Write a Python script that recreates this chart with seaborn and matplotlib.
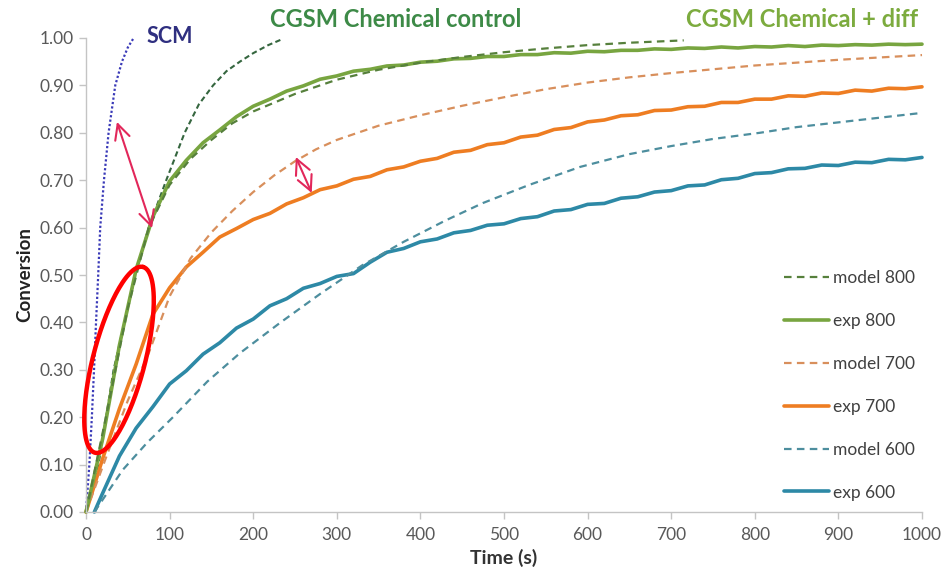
import numpy as np
import pandas as pd
import matplotlib
matplotlib.use("Agg")
import matplotlib.pyplot as plt
import seaborn as sns

# ---------------- data ----------------
exp_t = list(range(0, 1001, 20))
exp800 = [0.000, 0.155, 0.352, 0.512, 0.623, 0.698, 0.742, 0.779, 0.806, 0.834,
          0.856, 0.871, 0.888, 0.899, 0.913, 0.920, 0.930, 0.934, 0.941, 0.943,
          0.949, 0.951, 0.956, 0.957, 0.961, 0.961, 0.965, 0.965, 0.969, 0.968,
          0.972, 0.971, 0.974, 0.974, 0.977, 0.976, 0.979, 0.978, 0.981, 0.979,
          0.982, 0.981, 0.984, 0.982, 0.985, 0.984, 0.986, 0.985, 0.987, 0.986,
          0.987]
exp700 = [0.000, 0.113, 0.218, 0.312, 0.417, 0.473, 0.517, 0.548, 0.580, 0.598,
          0.617, 0.630, 0.650, 0.663, 0.680, 0.688, 0.702, 0.708, 0.722, 0.728,
          0.740, 0.746, 0.759, 0.763, 0.775, 0.779, 0.791, 0.795, 0.807, 0.811,
          0.823, 0.827, 0.836, 0.838, 0.847, 0.848, 0.855, 0.856, 0.864, 0.864,
          0.871, 0.871, 0.878, 0.877, 0.884, 0.883, 0.890, 0.888, 0.894, 0.893,
          0.897]
exp600_t = [10] + list(range(20, 1001, 20))
exp600 = [0.000, 0.040, 0.118, 0.177, 0.222, 0.270, 0.298, 0.333, 0.357, 0.388,
          0.407, 0.435, 0.450, 0.472, 0.482, 0.497, 0.503, 0.527, 0.548, 0.556,
          0.570, 0.576, 0.589, 0.594, 0.605, 0.608, 0.619, 0.623, 0.635, 0.638,
          0.649, 0.651, 0.662, 0.665, 0.675, 0.678, 0.688, 0.690, 0.701, 0.704,
          0.714, 0.716, 0.724, 0.725, 0.732, 0.731, 0.738, 0.737, 0.744, 0.743,
          0.748]

model800_t = [0, 25, 50, 75, 100, 125, 150, 175, 200, 250, 300, 350, 400, 450,
              500, 550, 600, 650, 715]
model800 = [0.0, 0.21, 0.43, 0.60, 0.69, 0.745, 0.785, 0.82, 0.845, 0.882, 0.912,
            0.933, 0.948, 0.960, 0.970, 0.978, 0.985, 0.990, 0.995]
model700_t = [0, 25, 50, 75, 100, 125, 150, 175, 200, 225, 250, 275, 300, 350,
              400, 450, 500, 550, 600, 650, 700, 750, 800, 850, 900, 950, 1000]
model700 = [0.0, 0.12, 0.235, 0.335, 0.455, 0.535, 0.59, 0.635, 0.675, 0.71, 0.74,
            0.765, 0.785, 0.815, 0.837, 0.857, 0.875, 0.892, 0.906, 0.917, 0.926,
            0.934, 0.942, 0.948, 0.954, 0.959, 0.964]
model600_t = [10, 44, 73, 104, 145, 184, 232, 280, 330, 380, 430, 475, 530, 591,
              650, 700, 750, 806, 850, 900, 950, 1000]
model600 = [0.0, 0.089, 0.146, 0.20, 0.275, 0.335, 0.399, 0.46, 0.52, 0.57, 0.615,
            0.652, 0.69, 0.728, 0.755, 0.772, 0.787, 0.80, 0.812, 0.822, 0.832, 0.842]

chem_t = [0, 15, 24, 33, 46, 59, 75, 96, 118, 135, 152, 168, 184, 200, 218, 234]
chem = [0.0, 0.10, 0.20, 0.30, 0.40, 0.50, 0.60, 0.70, 0.80, 0.86, 0.90, 0.93,
        0.95, 0.968, 0.985, 0.997]
scm_t = [0, 4, 7, 9.6, 12, 14.6, 17, 21.5, 27, 35, 43, 50, 57]
scm = [0.0, 0.10, 0.20, 0.30, 0.40, 0.50, 0.60, 0.70, 0.80, 0.90, 0.95, 0.98, 1.00]

x_ticks = list(range(0, 1001, 100))
y_ticks = [i / 10 for i in range(11)]

# ---------------- style ----------------
sns.set_theme(style="white")
plt.rcParams["font.family"] = ["Lato", "DejaVu Sans"]

fig = plt.figure(figsize=(9.43, 5.75), dpi=100)
ax = fig.add_axes([86 / 943, 1 - 512 / 575, (922 - 86) / 943, (512 - 38) / 575])

C_EXP800 = "#78a540"
C_MOD800 = "#56803c"
C_EXP700 = "#ee7d22"
C_MOD700 = "#d88f5c"
C_EXP600 = "#2d89a6"
C_MOD600 = "#4d8e9e"
C_CHEM = "#35663f"
C_SCM = "#3a3ab8"

def draw(t, v, color, lw, ls):
    sns.lineplot(x=t, y=v, ax=ax, color=color, linewidth=lw, linestyle=ls,
                 estimator=None, sort=False, clip_on=False)
    return ax.lines[-1]

draw(scm_t, scm, C_SCM, 1.6, (0, (1.0, 1.0)))
draw(chem_t, chem, C_CHEM, 1.5, (0, (2.6, 1.6)))
h_e600 = draw(exp600_t, exp600, C_EXP600, 2.6, "-")
h_m600 = draw(model600_t, model600, C_MOD600, 1.6, (0, (3.4, 2.4)))
h_e700 = draw(exp_t, exp700, C_EXP700, 2.6, "-")
h_m700 = draw(model700_t, model700, C_MOD700, 1.6, (0, (3.4, 2.4)))
h_e800 = draw(exp_t, exp800, C_EXP800, 2.6, "-")
h_m800 = draw(model800_t, model800, C_MOD800, 1.6, (0, (3.4, 2.4)))

ax.set_xlim(0, 1000)
ax.set_ylim(0, 1.0)
ax.set_xticks(x_ticks)
ax.set_yticks(y_ticks)
ax.set_xticklabels([str(x) for x in x_ticks])
ax.set_yticklabels([f"{y:.2f}" for y in y_ticks])
for s in ["top", "right"]:
    ax.spines[s].set_visible(False)
for s in ["left", "bottom"]:
    ax.spines[s].set_color("#c4c4c4")
    ax.spines[s].set_linewidth(1.0)
ax.tick_params(axis="both", direction="out", length=5, width=1, color="#c4c4c4",
               labelcolor="#595959", labelsize=12.5, left=True, bottom=True)
ax.tick_params(axis="y", pad=4)
ax.tick_params(axis="x", pad=6)
ax.set_xlabel("Time (s)", fontsize=14, fontweight="bold", color="#333333", labelpad=4)
ax.set_ylabel("Conversion", fontsize=13.5, fontweight="bold", color="#222222", labelpad=4)

# curve labels
ax.text(100, 1.004, "SCM", color="#2f2f80", fontsize=15.5, fontweight="bold",
        ha="center", va="center", clip_on=False)
ax.text(396 / 0.836 - 86 / 0.836, 1.038, "CGSM Chemical control", color="#3d8a47",
        fontsize=17, fontweight="bold", ha="center", va="center", clip_on=False)
ax.text(856, 1.038, "CGSM Chemical + diff", color="#7cab3e", fontsize=17,
        fontweight="bold", ha="center", va="center", clip_on=False)

# annotation arrows
arrow_kw = dict(arrowstyle="<->,head_length=0.6,head_width=0.3", color="#e2275a",
                lw=1.5, mutation_scale=18, shrinkA=0, shrinkB=0)
ax.annotate("", xy=(37, 0.823), xytext=(79, 0.599), arrowprops=arrow_kw)
ax.annotate("", xy=(251, 0.749), xytext=(270, 0.673), arrowprops=arrow_kw)

# red ellipse highlight
ell_center = (39.5, 0.321)
ell_major = (28.7, 0.196)
ell_minor = (30.1, -0.0137)
th = np.linspace(0, 2 * np.pi, 200)
ex = ell_center[0] + ell_major[0] * np.cos(th) + ell_minor[0] * np.sin(th)
ey = ell_center[1] + ell_major[1] * np.cos(th) + ell_minor[1] * np.sin(th)
ax.plot(ex, ey, color="#ff0000", lw=3.2, clip_on=False, zorder=5)

# legend
handles = [h_m800, h_e800, h_m700, h_e700, h_m600, h_e600]
labels = ["model 800", "exp 800", "model 700", "exp 700", "model 600", "exp 600"]
leg = fig.legend(handles, labels, loc="upper left",
                 bbox_to_anchor=(784 / 943, 1 - 270 / 575), frameon=False,
                 fontsize=12.5, labelspacing=1.55, handlelength=2.6,
                 handletextpad=0.25, borderpad=0, borderaxespad=0)
for t in leg.get_texts():
    t.set_color("#404040")

fig.savefig("out.png", dpi=100)
